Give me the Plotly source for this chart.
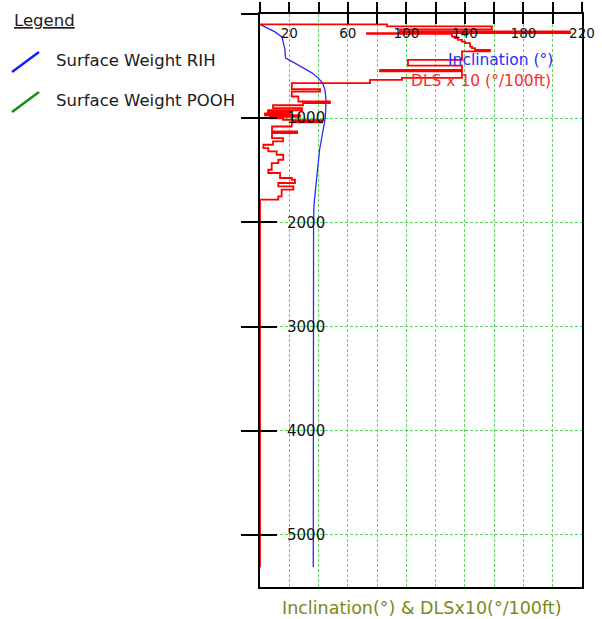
import plotly.graph_objects as go

# ---- survey data -------------------------------------------------------
# Inclination profile (measured depth, ft  /  inclination, deg)
inc_depth = [100, 172, 220, 344, 421, 488, 565, 613, 661, 728, 824, 948,
             1015, 1303, 1543, 1687, 1830, 1993, 2741, 4000, 5311]
inc_deg = [0.0, 10.2, 15.0, 17.1, 17.4, 25.6, 35.5, 39.6, 42.7, 44.4, 45.1,
           44.8, 44.4, 40.7, 38.9, 37.6, 36.9, 36.6, 36.6, 36.5, 36.4]

# Dog-leg severity per survey interval (measured depth, ft  /  DLS, deg/100ft)
dls_depth = [100, 100, 119, 148, 167, 184, 191, 217, 232, 248, 265, 280,
             313, 328, 344, 359, 440, 495, 536, 551, 613, 632, 664, 721,
             744, 792, 840, 855, 876, 903, 924, 943, 953, 972, 987, 1001,
             1015, 1020, 1039, 1080, 1128, 1143, 1191, 1223, 1255, 1287,
             1319, 1351, 1399, 1431, 1495, 1526, 1574, 1591, 1622, 1655,
             1686, 1751, 1782, 5311]
dls_val = [0.0, 8.68, 15.85, 9.57, 21.18, 7.31, 13.12, 13.32, 13.53, 13.80,
           14.01, 14.35, 14.48, 14.69, 15.71, 13.80, 10.11, 13.80, 8.20,
           13.80, 9.70, 7.52, 2.17, 4.10, 2.17, 2.62, 4.78, 2.94, 0.89,
           2.87, 0.55, 2.05, 0.34, 2.73, 0.68, 1.57, 2.25, 4.24, 2.17,
           0.82, 2.53, 0.82, 1.57, 0.89, 0.23, 0.57, 1.14, 1.59, 1.25,
           0.80, 0.57, 1.37, 2.17, 2.39, 1.25, 2.28, 1.48, 1.25, 0.0, 0.0]
dls_x10 = [v * 10 for v in dls_val]

# ---- axes definition ---------------------------------------------------
x_ticks = list(range(0, 221, 20))
x_labels = [str(v) if v % 40 == 20 else "" for v in x_ticks]
y_ticks = list(range(0, 5001, 1000))
y_labels = [str(v) if v > 0 else "" for v in y_ticks]
x_range = [0, 220]
y_range = [5500, 0]

FONT = "DejaVu Sans"
GRID = "#62d462"
W, H = 602, 619
L, R, T, B = 260, 20, 14, 32


def px_x(px):
    return (px - L) / (W - L - R)


def px_y(py):
    return 1 - (py - T) / (H - T - B)


fig = go.Figure()

fig.add_trace(go.Scatter(
    x=inc_deg, y=inc_depth, mode="lines", name="Inclination",
    line=dict(color="#2a2aff", width=1.3), showlegend=False,
    xaxis="x", yaxis="y"))

fig.add_trace(go.Scatter(
    x=dls_x10, y=dls_depth, mode="lines", name="DLS x 10",
    line=dict(color="#ff0000", width=1.8, shape="vh"), showlegend=False,
    xaxis="x2", yaxis="y2"))

axis_common = dict(zeroline=False, tickcolor="black", tickwidth=1.5)

fig.update_layout(
    width=W, height=H,
    margin=dict(l=L, r=R, t=T, b=B, autoexpand=False),
    paper_bgcolor="white", plot_bgcolor="white",
    font=dict(family=FONT, color="black"),
    # primary axes: frame, outer ticks, grid, inclination scale labels
    xaxis=dict(
        range=x_range, side="top", tickmode="array", tickvals=x_ticks,
        ticktext=x_labels, ticks="outside", ticklen=10,
        ticklabelstandoff=-41,
        tickfont=dict(size=13.5, color="#111"),
        showline=True, linecolor="black", linewidth=1.6, mirror=True,
        showgrid=True, gridcolor=GRID, gridwidth=1.4, griddash="3px,2px",
        **axis_common),
    yaxis=dict(
        range=y_range, tickmode="array", tickvals=y_ticks,
        ticks="outside", ticklen=17, showticklabels=False,
        showline=True, linecolor="black", linewidth=1.6, mirror=True,
        showgrid=True, gridcolor=GRID, gridwidth=1.4, griddash="3px,2px",
        **axis_common),
    # secondary axes: inner half of the cross ticks, depth labels
    xaxis2=dict(
        range=x_range, overlaying="x", side="top", anchor="y2",
        tickmode="array", tickvals=x_ticks, ticks="inside", ticklen=10,
        showticklabels=False, showgrid=False, showline=False, **axis_common),
    yaxis2=dict(
        range=y_range, overlaying="y", side="left", anchor="x2",
        tickmode="array", tickvals=y_ticks, ticktext=y_labels,
        ticks="inside", ticklen=17, ticklabelposition="inside",
        ticklabelstandoff=10, tickfont=dict(size=15, color="#111"),
        showgrid=False, showline=False, **axis_common),
)

annotations = [
    dict(text="Inclination (°)", x=201.5, y=440, xref="x", yref="y",
         xanchor="right", yanchor="middle", showarrow=False,
         font=dict(size=15.5, color="#2a2aff", family=FONT)),
    dict(text="DLS x 10 (°/100ft)", x=200.5, y=641, xref="x", yref="y",
         xanchor="right", yanchor="middle", showarrow=False,
         font=dict(size=15.5, color="#ff2a2a", family=FONT)),
    dict(text="Inclination(°) & DLSx10(°/100ft)", x=px_x(422), y=px_y(608),
         xref="paper", yref="paper", xanchor="center", yanchor="middle",
         showarrow=False, font=dict(size=17.5, color="#7a8a18", family=FONT)),
    dict(text="<u>Legend</u>", x=px_x(12), y=px_y(20), xref="paper",
         yref="paper", xanchor="left", yanchor="middle", showarrow=False,
         font=dict(size=16.5, color="#1a1a1a", family=FONT)),
    dict(text="Surface Weight RIH", x=px_x(54), y=px_y(60), xref="paper",
         yref="paper", xanchor="left", yanchor="middle", showarrow=False,
         font=dict(size=16.5, color="#1a1a1a", family=FONT)),
    dict(text="Surface Weight POOH", x=px_x(54), y=px_y(100), xref="paper",
         yref="paper", xanchor="left", yanchor="middle", showarrow=False,
         font=dict(size=16.5, color="#1a1a1a", family=FONT)),
]
fig.update_layout(annotations=annotations)

# legend key strokes
fig.add_shape(type="line", xref="paper", yref="paper",
              x0=px_x(12), y0=px_y(72), x1=px_x(39), y1=px_y(52),
              line=dict(color="#1a1aff", width=2.5))
fig.add_shape(type="line", xref="paper", yref="paper",
              x0=px_x(12), y0=px_y(112), x1=px_x(39), y1=px_y(92),
              line=dict(color="#1a8a1a", width=2.5))

fig.write_html("out.html")
